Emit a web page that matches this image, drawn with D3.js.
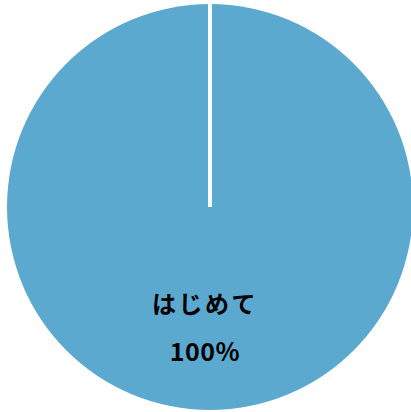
<!DOCTYPE html>
<html>
<head>
<meta charset="utf-8">
<script src="https://cdn.jsdelivr.net/npm/d3@7"></script>
<style>
  html, body { margin: 0; padding: 0; background: #fff; }
  svg { display: block; }
</style>
</head>
<body>
<svg id="chart" width="411" height="412"></svg>
<script>
var categories = ['はじめて'],
    values = [100],
    colors = ['#5ba9cf'];

var svg = d3.select('#chart'),
    cx = 210, cy = 207, radius = 203;

var g = svg.append('g').attr('transform', 'translate(' + cx + ',' + cy + ')');

var pie = d3.pie().sort(null),
    arcs = pie(values),
    arc = d3.arc().innerRadius(0).outerRadius(radius);

g.selectAll('path.slice')
  .data(arcs)
  .enter().append('path')
  .attr('class', 'slice')
  .attr('d', arc)
  .attr('fill', function(d, i) { return colors[i]; });

// slice border: white edge at each start angle
g.selectAll('line.edge')
  .data(arcs)
  .enter().append('line')
  .attr('class', 'edge')
  .attr('x1', 0).attr('y1', 0)
  .attr('x2', function(d) { return Math.sin(d.startAngle) * (radius + 2); })
  .attr('y2', function(d) { return -Math.cos(d.startAngle) * (radius + 2); })
  .attr('stroke', '#fff')
  .attr('stroke-width', 4);

var total = d3.sum(values);
var labels = g.selectAll('g.label')
  .data(arcs)
  .enter().append('g')
  .attr('class', 'label')
  .attr('transform', function(d) {
    var c = arc.centroid(d);
    return 'translate(' + (c[0] - 5) + ',' + (c[1] - 3) + ')';
  });

labels.append('text')
  .attr('text-anchor', 'middle')
  .attr('y', 7)
  .attr('font-family', '"Noto Sans CJK JP", sans-serif')
  .attr('font-weight', 'bold')
  .attr('font-size', 24)
  .attr('letter-spacing', 2.5)
  .text(function(d, i) { return categories[i]; });

labels.append('text')
  .attr('text-anchor', 'middle')
  .attr('y', 55)
  .attr('font-family', '"Noto Sans CJK JP", sans-serif')
  .attr('font-weight', 'bold')
  .attr('font-size', 25)
  .attr('letter-spacing', 0.5)
  .text(function(d) { return Math.round(d.value / total * 100) + '%'; });
</script>
</body>
</html>
